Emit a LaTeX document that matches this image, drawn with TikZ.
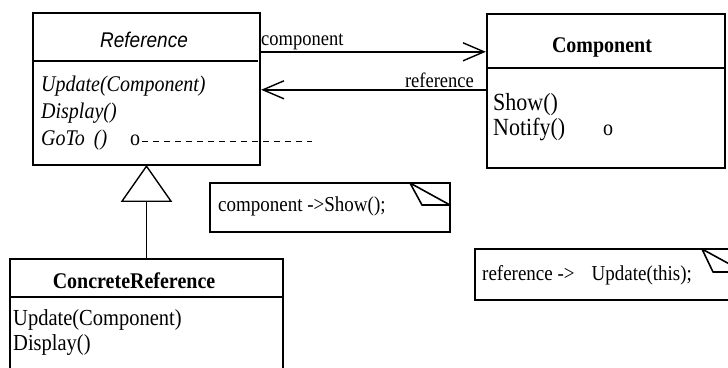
\documentclass[tikz,border=0pt]{standalone}
\usepackage{fontspec}
\usepackage{graphicx}
\setmainfont{Liberation Serif}
\newfontfamily\titlesans{Liberation Sans}
\newcommand{\tallt}[1]{\scalebox{1}[1.12]{#1}}
\usetikzlibrary{arrows.meta,calc}
\begin{document}
\begin{tikzpicture}[x=1pt,y=-1pt,
  classbox/.style={draw,line width=2.4pt,rectangle,inner sep=0pt},
  notebox/.style={draw,line width=2.2pt,rectangle,inner sep=0pt},
  divider/.style={line width=2.2pt},
  txt/.style={inner sep=0pt,anchor=base west,font=\fontsize{20}{24}\selectfont},
  txtit/.style={txt,font=\fontsize{20}{24}\selectfont\itshape},
  ctitle/.style={inner sep=0pt,anchor=base,font=\fontsize{20}{24}\selectfont\bfseries},
  lbl/.style={inner sep=0pt,font=\fontsize{18.5}{22}\selectfont},
  notetxt/.style={inner sep=0pt,anchor=base west,font=\fontsize{19}{23}\selectfont},
  assoc/.style={line width=1.4pt,-{Straight Barb[length=21pt,width=18pt,line width=1.4pt]}},
  fold/.style={line width=1.6pt,line join=round}
]
\useasboundingbox (0,0) rectangle (728,367);

% Reference class
\node[classbox,minimum width=227pt,minimum height=152pt] (ref) at (146.5,89) {};
\draw[divider] (33,61) -- (258,61);
\node[inner sep=0pt,anchor=base,font=\fontsize{19}{23}\selectfont\titlesans\itshape] (reftitle) at (144,47) {\tallt{Reference}};
\node[txtit] (refm1) at (41,91) {\tallt{Update(Component)}};
\node[txtit] (refm2) at (41,118) {\tallt{Display()}};
\node[txtit] (refm3) at (41,145) {\tallt{GoTo\hspace{4pt} ()}};
\node[txt] (refo) at (130,145) {\tallt{o}};

% Component class
\node[classbox,minimum width=238pt,minimum height=154pt] (comp) at (606,91) {};
\draw[divider] (487,68) -- (725,68);
\node[ctitle] (comptitle) at (602,52) {\tallt{Component}};
\node[txt,font=\fontsize{22}{26}\selectfont] (compm1) at (493,110) {\tallt{Show()}};
\node[txt,font=\fontsize{22}{26}\selectfont] (compm2) at (493,135) {\tallt{Notify()}};
\node[txt] (compo) at (603,135) {\tallt{o}};

% ConcreteReference class
\node[classbox,minimum width=273pt,minimum height=131pt] (cref) at (146.5,324.5) {};
\draw[divider] (10,297) -- (283,297);
\node[ctitle] (creftitle) at (134,288) {\tallt{ConcreteReference}};
\node[txt,font=\fontsize{20.5}{24}\selectfont] (crefm1) at (13,325) {\tallt{Update(Component)}};
\node[txt,font=\fontsize{20.5}{24}\selectfont] (crefm2) at (13,350) {\tallt{Display()}};

% Notes
\node[notebox,minimum width=240pt,minimum height=49pt] (note1) at (330,207.5) {};
\draw[fold] (410,183) -- (422,205) -- (450,205) -- cycle;
\node[notetxt] (note1t) at (218,211) {\tallt{component -{}>Show();}};

\node[notebox,minimum width=269pt,minimum height=51pt] (note2) at (609.5,274.5) {};
\draw[fold] (702,249) -- (713,272) -- (744,272) -- cycle;
\node[notetxt] (note2t) at (482,280) {\tallt{reference -{}>\hspace{17pt}Update(this);}};

% Associations
\draw[assoc] ($(ref.north east)+(0,40)$) -- ($(comp.north west)+(0,39)$);
\draw[assoc] ($(comp.north west)+(0,77)$) -- ($(ref.north east)+(0,78)$);
\node[lbl,anchor=base west] (lblc) at (261,45) {\tallt{component}};
\node[lbl,anchor=base east] (lblr) at (474,87) {\tallt{reference}};

% Dashed note link
\coordinate (dashend) at (312,141);
\draw[line width=0.9pt,dash pattern=on 6pt off 5pt] (refo.east |- dashend) ++(2,0) -- (dashend);

% Inheritance
\coordinate (tribase) at ($(ref.south)+(0,35)$);
\draw[line width=1.4pt,line join=miter] (ref.south) -- ($(tribase)+(-24.5,0)$) -- ($(tribase)+(24.5,0)$) -- cycle;
\draw[line width=1.4pt] (tribase) -- (cref.north);
\end{tikzpicture}
\end{document}
